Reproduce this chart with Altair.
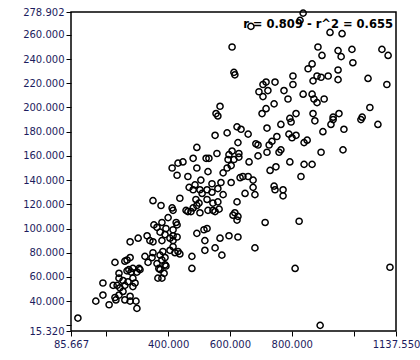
import altair as alt
import pandas as pd

x_vals = [837, 827, 668, 924, 963, 607, 885, 950, 995, 1092, 1112, 960, 898, 866, 998, 613, 616, 853, 950, 804,
          882, 895, 918, 950, 1047, 1108, 869, 717, 707, 694, 707, 723, 775, 804, 788, 837, 866, 872, 882, 905,
          568, 555, 561, 717, 743, 814, 704, 869, 934, 953, 1028, 1053, 794, 623, 636, 552, 591, 659, 720, 765,
          798, 752, 791, 814, 801, 850, 840, 901, 927, 969, 1024, 1079, 875, 626, 493, 684, 691, 727, 736, 765,
          759, 720, 966, 895, 558, 523, 481, 448, 532, 607, 597, 629, 629, 594, 613, 691, 662, 794, 840, 866,
          830, 730, 749, 432, 413, 429, 464, 493, 529, 591, 578, 604, 506, 542, 571, 604, 633, 642, 659, 675,
          675, 681, 649, 743, 746, 772, 772, 714, 824, 468, 481, 487, 503, 510, 526, 542, 561, 578, 490, 493,
          500, 526, 561, 545, 438, 351, 377, 413, 416, 458, 464, 481, 474, 503, 529, 545, 552, 565, 623, 616,
          626, 623, 610, 400, 426, 429, 354, 364, 374, 393, 390, 416, 493, 516, 526, 568, 597, 626, 380, 416,
          429, 406, 332, 341, 351, 303, 277, 380, 416, 519, 325, 351, 374, 383, 390, 406, 422, 432, 438, 477,
          519, 552, 574, 681, 348, 364, 380, 390, 374, 416, 228, 260, 267, 277, 335, 370, 393, 477, 811, 1118,
          241, 267, 273, 280, 286, 299, 309, 306, 387, 367, 380, 241, 254, 286, 293, 189, 222, 235, 244, 260,
          270, 254, 189, 228, 241, 286, 277, 260, 231, 166, 209, 277, 296, 299, 108, 892, 934, 746]
y_vals = [278, 272, 267, 262, 261, 250, 250, 247, 248, 248, 243, 242, 243, 236, 237, 229, 227, 232, 231, 226,
          226, 225, 226, 223, 224, 219, 222, 221, 219, 213, 209, 214, 214, 219, 207, 211, 211, 207, 204, 207,
          201, 195, 193, 199, 203, 195, 195, 195, 192, 195, 192, 200, 191, 184, 182, 177, 179, 178, 183, 186,
          188, 176, 178, 177, 175, 173, 171, 180, 186, 182, 190, 186, 189, 171, 167, 170, 169, 169, 172, 165,
          163, 163, 165, 163, 162, 158, 158, 155, 158, 164, 161, 162, 159, 157, 157, 160, 155, 155, 153, 153,
          143, 148, 151, 154, 150, 144, 143, 150, 147, 150, 146, 152, 140, 137, 138, 138, 142, 143, 143, 140,
          134, 128, 129, 135, 132, 132, 127, 105, 106, 134, 132, 136, 132, 129, 132, 130, 133, 128, 124, 119,
          121, 124, 122, 121, 125, 123, 119, 117, 115, 115, 114, 117, 114, 113, 115, 115, 114, 116, 122, 113,
          110, 107, 111, 109, 105, 103, 103, 101, 97, 100, 95, 94, 96, 99, 100, 92, 94, 93, 105, 99,
          93, 92, 94, 90, 89, 92, 89, 90, 90, 90, 77, 80, 78, 81, 76, 82, 80, 81, 79, 77,
          82, 84, 78, 84, 76, 71, 74, 70, 66, 85, 72, 73, 74, 76, 72, 67, 69, 67, 67, 68,
          63, 65, 66, 64, 67, 64, 66, 67, 63, 59, 59, 59, 57, 59, 55, 55, 53, 53, 51, 53,
          56, 48, 45, 43, 45, 52, 44, 41, 41, 40, 37, 40, 40, 34, 26, 20, 190, 221]

x_ticks = [85.667, 200, 400, 600, 800, 1000, 1137.55]
y_ticks = [15.32, 20, 40, 60, 80, 100, 120, 140, 160, 180, 200, 220, 240, 260, 278.902]
x_domain = [85.667, 1137.55]
y_domain = [15.32, 278.902]
annotation = ["r = 0.809 - r^2 = 0.655"]

df = pd.DataFrame({"x": x_vals, "y": y_vals})
label_color = "#1c1c5e"

points = alt.Chart(df).mark_point(
    shape="circle", filled=False, color="black", size=38, strokeWidth=1.5, opacity=1
).encode(
    x=alt.X("x:Q", scale=alt.Scale(domain=x_domain, nice=False, zero=False),
            axis=alt.Axis(values=x_ticks, format=".3f",
                          labelExpr="(datum.value == 200 || datum.value == 1000) ? '' : datum.label",
                          title=None, grid=False, domain=False, tickColor="black", tickSize=5,
                          labelColor=label_color, labelFont="DejaVu Sans", labelFontSize=10,
                          labelPadding=3, labelFlush=False, labelOverlap=False)),
    y=alt.Y("y:Q", scale=alt.Scale(domain=y_domain, nice=False, zero=False),
            axis=alt.Axis(values=y_ticks, format=".3f",
                          labelExpr="(datum.value == 20) ? '' : datum.label",
                          title=None, grid=False, domain=False, tickColor="black", tickSize=5,
                          labelColor=label_color, labelFont="DejaVu Sans", labelFontSize=10,
                          labelPadding=2, labelFlush=False, labelOverlap=False)),
)

text = alt.Chart(pd.DataFrame({"t": annotation})).mark_text(
    align="right", baseline="alphabetic", fontWeight="bold", font="DejaVu Sans",
    fontSize=11.5, color="black"
).encode(x=alt.value(322), y=alt.value(16), text="t:N")

chart = alt.layer(text, points).properties(
    width=325, height=319,
    autosize=alt.AutoSizeParams(type="none"),
    padding={"left": 71, "top": 12, "right": 24, "bottom": 29},
    background="white",
).configure_view(stroke="black", strokeWidth=1.5)

chart.save("out.html", embed_options={"renderer": "svg", "actions": False})
